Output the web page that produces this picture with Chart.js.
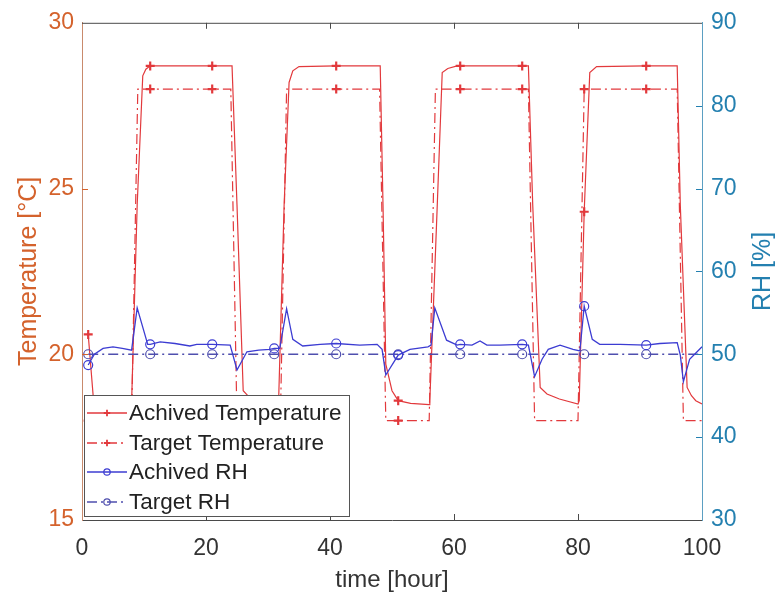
<!DOCTYPE html>
<html><head><meta charset="utf-8">
<script src="https://cdn.jsdelivr.net/npm/chart.js@4"></script>
<style>html,body{margin:0;padding:0;background:#fff;} #c{display:block;}</style>
</head><body>
<canvas id="c" width="781" height="601"></canvas>
<script>
// ---------- data ----------
const markerTimes = [1, 11, 21, 31, 41, 51, 61, 71, 81, 91];
const xTicks = [0, 20, 40, 60, 80, 100];
const tempTicks = [15, 20, 25, 30];
const rhTicks = [30, 40, 50, 60, 70, 80, 90];

const achTempTime = [1, 1.8, 2.5, 4, 8.0, 8.9, 9.8, 10.3, 11, 21, 24.2, 25, 26, 27, 29, 31, 31.7, 32.6, 33.4, 34, 35, 41, 48.1, 48.55, 49.0, 50, 51, 53, 56.0, 56.1, 57.3, 58.1, 59, 60.5, 61, 71, 72, 72.7, 73.9, 75, 77, 80, 80.2, 81, 81.9, 83, 91, 96, 96.5, 97.6, 98.3, 99, 100];
const achTempVal  = [20.6, 18.75, 18.6, 18.52, 18.55, 24.5, 28.4, 28.6, 28.7, 28.7, 28.7, 24.5, 18.9, 18.7, 18.55, 18.5, 18.5, 24.5, 28.2, 28.55, 28.68, 28.7, 28.7, 24.5, 19.7, 18.9, 18.6, 18.52, 18.48, 18.6, 24.5, 28.5, 28.62, 28.7, 28.7, 28.7, 28.7, 24.5, 19.0, 18.8, 18.65, 18.5, 18.6, 24.3, 28.5, 28.68, 28.7, 28.7, 24.5, 19.0, 18.75, 18.6, 18.5];

const tgtTempTime = [1, 8, 9, 11, 21, 24, 25, 31, 32, 33, 41, 48, 49, 51, 56, 57, 61, 71, 72, 73, 80, 81, 91, 96, 97, 100];
const tgtTempVal  = [18, 18, 28, 28, 28, 28, 18, 18, 18, 28, 28, 28, 18, 18, 18, 28, 28, 28, 28, 18, 18, 28, 28, 28, 18, 18];

const achRHTime = [1, 2, 3.4, 5, 6.5, 8, 8.9, 10.6, 11, 12.6, 15, 17.4, 18.5, 21, 23.9, 25, 26.6, 28.5, 30.3, 31, 31.9, 33, 34, 35.6, 38.4, 41, 44.8, 47.6, 48.4, 49, 51, 52.9, 55.8, 56.3, 56.9, 58.8, 60.5, 61, 62.9, 64.2, 65.3, 67.4, 71, 72, 73, 74.2, 75.2, 77.1, 79.2, 80.3, 81, 82.3, 83.5, 86.8, 91, 93.2, 96, 96.5, 97, 98, 100];
const achRHVal  = [48.7, 50.0, 50.7, 50.9, 50.7, 50.5, 55.6, 51.2, 51.2, 51.5, 51.3, 51.0, 51.2, 51.2, 51.1, 48.1, 50.3, 50.5, 50.6, 50.7, 50.7, 55.5, 51.8, 51.0, 51.2, 51.3, 51.1, 51.2, 50.6, 47.5, 49.9, 50.6, 50.9, 51.1, 55.6, 51.7, 51.1, 51.2, 51.1, 51.6, 51.1, 51.1, 51.2, 51.1, 47.3, 49.4, 50.6, 51.1, 50.6, 50.4, 55.8, 51.8, 51.2, 51.2, 51.1, 51.3, 51.4, 49.9, 46.7, 49.4, 50.9];

const tgtRHTime = [1, 11, 21, 31, 41, 51, 61, 71, 81, 91, 100];
const tgtRHVal  = [50, 50, 50, 50, 50, 50, 50, 50, 50, 50, 50];

const seriesNames = ['Achived Temperature', 'Target Temperature', 'Achived RH', 'Target RH'];
const rhTitle = 'RH [%]';

// ---------- styles ----------
const FONT = '"Liberation Sans", Arial, Helvetica, sans-serif';
const RED = '#e2393c';
const BLUE = '#3c3cd2';
const BLUE2 = '#4f4fae';
const ORANGE = '#d4622c';
const TEAL = '#2480b0';
const DASHDOT = [10, 4, 2, 4];

const pts = (t, v) => t.map((x, i) => ({x, y: v[i]}));
const mk = r => (ctx => (ctx.raw && markerTimes.includes(ctx.raw.x)) ? r : 0);

const datasets = [
  {label: seriesNames[0], data: pts(achTempTime, achTempVal), yAxisID: 'y', borderColor: RED, borderWidth: 1.2,
   pointStyle: 'cross', pointRadius: mk(4.5), pointBorderColor: RED, pointBorderWidth: 2.2, pointBackgroundColor: RED, order: 3},
  {label: seriesNames[1], data: pts(tgtTempTime, tgtTempVal), yAxisID: 'y', borderColor: RED, borderWidth: 1.2, borderDash: DASHDOT,
   pointStyle: 'cross', pointRadius: mk(4.5), pointBorderColor: RED, pointBorderWidth: 2.2, pointBackgroundColor: RED, order: 4},
  {label: seriesNames[2], data: pts(achRHTime, achRHVal), yAxisID: 'y1', borderColor: BLUE, borderWidth: 1.3,
   pointStyle: 'circle', pointRadius: mk(4.5), pointBorderColor: BLUE, pointBorderWidth: 1.2, pointBackgroundColor: 'rgba(0,0,0,0)', order: 1},
  {label: seriesNames[3], data: pts(tgtRHTime, tgtRHVal), yAxisID: 'y1', borderColor: BLUE2, borderWidth: 1.3, borderDash: DASHDOT,
   pointStyle: 'circle', pointRadius: mk(4.5), pointBorderColor: BLUE2, pointBorderWidth: 1.2, pointBackgroundColor: 'rgba(0,0,0,0)', order: 2}
];

// frame, inward ticks, right-axis title and in-plot legend
const framePlugin = {
  id: 'frame',
  afterDatasetsDraw(chart) {
    const {ctx, chartArea: a, scales} = chart;
    ctx.save();
    ctx.lineWidth = 1;
    ctx.strokeStyle = '#4a4a4a';
    ctx.beginPath(); ctx.moveTo(a.left, a.top + 0.5); ctx.lineTo(a.right, a.top + 0.5); ctx.stroke();
    const TL = 6;
    xTicks.forEach(v => {
      if (v === xTicks[0] || v === xTicks[xTicks.length - 1]) return;
      const x = Math.round(scales.x.getPixelForValue(v)) + 0.5;
      ctx.beginPath(); ctx.moveTo(x, a.bottom); ctx.lineTo(x, a.bottom - TL);
      ctx.moveTo(x, a.top); ctx.lineTo(x, a.top + TL); ctx.stroke();
    });
    ctx.strokeStyle = ORANGE;
    tempTicks.slice(1, -1).forEach(v => {
      const y = Math.round(scales.y.getPixelForValue(v)) + 0.5;
      ctx.beginPath(); ctx.moveTo(a.left, y); ctx.lineTo(a.left + TL, y); ctx.stroke();
    });
    ctx.strokeStyle = TEAL;
    rhTicks.slice(1, -1).forEach(v => {
      const y = Math.round(scales.y1.getPixelForValue(v)) + 0.5;
      ctx.beginPath(); ctx.moveTo(a.right, y); ctx.lineTo(a.right - TL, y); ctx.stroke();
    });
    // right-axis title, reading bottom to top
    ctx.save();
    ctx.translate(763, (a.top + a.bottom) / 2);
    ctx.rotate(-Math.PI / 2);
    ctx.font = '25px ' + FONT;
    ctx.fillStyle = TEAL;
    ctx.textAlign = 'center';
    ctx.textBaseline = 'middle';
    ctx.fillText(rhTitle, 0, 0);
    ctx.restore();
    // legend box
    const bx = a.left + 2, by = 395, bw = 265, bh = 121;
    ctx.fillStyle = '#ffffff';
    ctx.fillRect(bx, by, bw, bh);
    ctx.strokeStyle = '#555';
    ctx.lineWidth = 1;
    ctx.strokeRect(bx + 0.5, by + 0.5, bw, bh);
    const rows = [413, 443, 472, 502];
    ctx.font = '22.5px ' + FONT;
    ctx.textBaseline = 'middle';
    ctx.textAlign = 'left';
    chart.data.datasets.forEach((ds, i) => {
      const y = rows[i];
      ctx.strokeStyle = ds.borderColor;
      ctx.lineWidth = 1.3;
      ctx.setLineDash(ds.borderDash || []);
      ctx.beginPath(); ctx.moveTo(bx + 3, y); ctx.lineTo(bx + 43, y); ctx.stroke();
      ctx.setLineDash([]);
      ctx.fillStyle = ds.pointBackgroundColor;
      ctx.strokeStyle = ds.pointBorderColor;
      ctx.lineWidth = ds.pointStyle === 'cross' ? 1.8 : 1.2;
      Chart.helpers.drawPoint(ctx, {pointStyle: ds.pointStyle, radius: 3.2, borderWidth: ctx.lineWidth, rotation: 0}, bx + 23, y);
      ctx.fillStyle = '#222';
      ctx.fillText(ds.label, bx + 45, y + 1);
    });
    ctx.restore();
  }
};

new Chart(document.getElementById('c'), {
  type: 'line',
  data: {datasets},
  options: {
    responsive: false,
    animation: false,
    events: [],
    layout: {padding: {top: 17, left: 0, right: 0, bottom: 0}},
    plugins: {legend: {display: false}, tooltip: {enabled: false}},
    elements: {line: {tension: 0, fill: false}},
    scales: {
      x: {
        type: 'linear', min: 0, max: 100,
        afterBuildTicks: s => { s.ticks = xTicks.map(v => ({value: v})); },
        afterFit: s => { s.height = 81; },
        grid: {display: true, drawOnChartArea: false, drawTicks: false},
        border: {display: true, color: '#4a4a4a', width: 1},
        ticks: {color: '#333', font: {family: FONT, size: 23}, padding: 15, maxRotation: 0},
        title: {display: true, text: 'time [hour]', color: '#333', font: {family: FONT, size: 24}, padding: {top: 0, bottom: 6}}
      },
      y: {
        type: 'linear', position: 'left', min: 15, max: 30,
        afterBuildTicks: s => { s.ticks = tempTicks.map(v => ({value: v})); },
        afterFit: s => { s.width = 82; },
        grid: {display: true, drawOnChartArea: false, drawTicks: false},
        border: {display: true, color: '#c98a6c', width: 1},
        ticks: {color: ORANGE, font: {family: FONT, size: 23}, padding: 8},
        title: {display: true, text: 'Temperature [°C]', color: ORANGE, font: {family: FONT, size: 25}, padding: {top: 14, bottom: 0}}
      },
      y1: {
        type: 'linear', position: 'right', min: 30, max: 90,
        afterBuildTicks: s => { s.ticks = rhTicks.map(v => ({value: v})); },
        afterFit: s => { s.width = 79; },
        grid: {display: true, drawOnChartArea: false, drawTicks: false},
        border: {display: true, color: '#5b9fc2', width: 1},
        ticks: {color: TEAL, font: {family: FONT, size: 23}, padding: 9},
        title: {display: false}
      }
    }
  },
  plugins: [framePlugin]
});
</script>
</body></html>
